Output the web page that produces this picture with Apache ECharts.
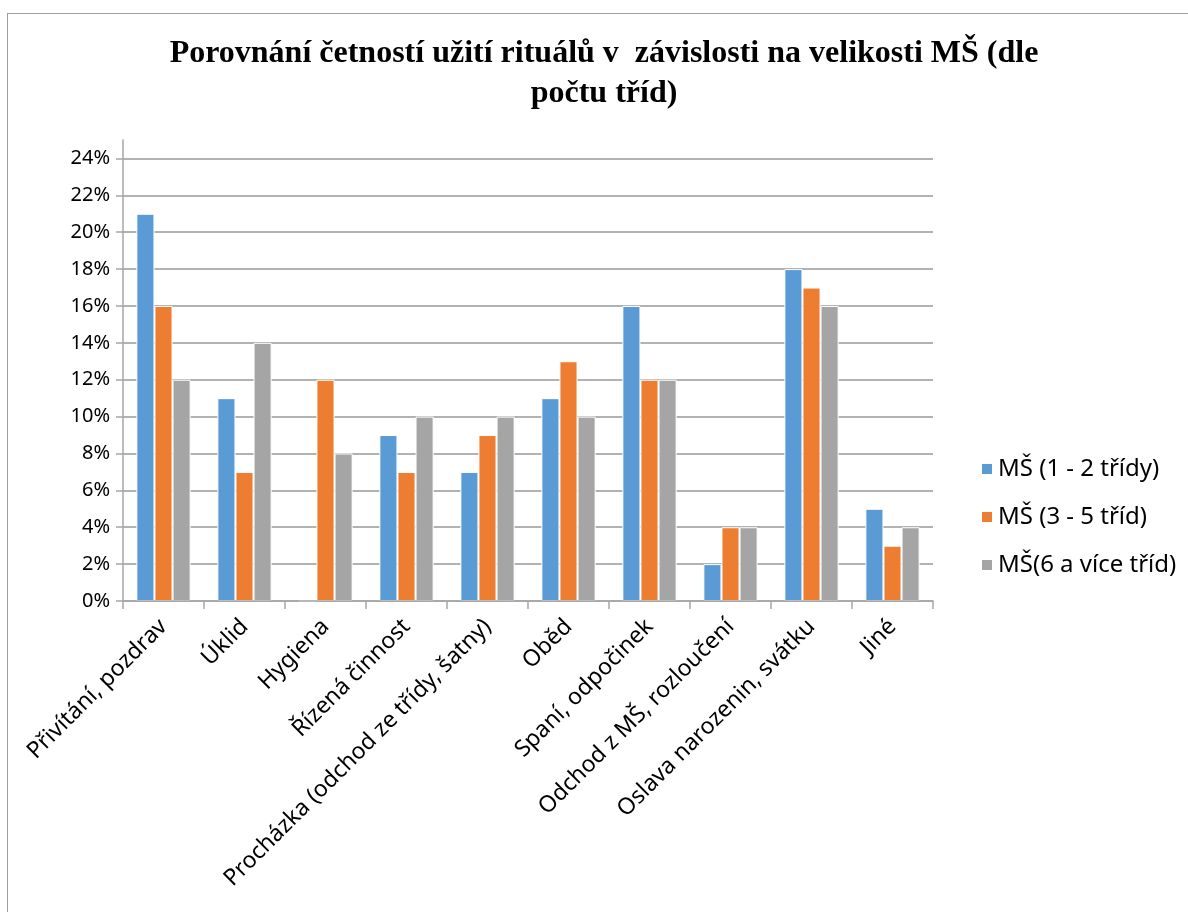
<!DOCTYPE html>
<html>
<head>
<meta charset="utf-8">
<script src="https://cdn.jsdelivr.net/npm/echarts@6/dist/echarts.min.js"></script>
<style>
html,body{margin:0;padding:0;background:#fff;}
#c{width:1188px;height:912px;position:absolute;left:0;top:0;}
#frame{position:absolute;left:7px;top:13px;width:1300px;height:1000px;border-left:1.5px solid #a0a0a0;border-top:1.5px solid #a0a0a0;pointer-events:none;}
</style>
</head>
<body>
<div id="c"></div>
<div id="frame"></div>
<script>
const titleText = 'Porovnání četností užití rituálů v  závislosti na velikosti MŠ (dle\npočtu tříd)';
const categories = ['Přivítání, pozdrav', 'Úklid', 'Hygiena', 'Řízená činnost', 'Procházka (odchod ze třídy, šatny)', 'Oběd', 'Spaní, odpočinek', 'Odchod z MŠ, rozloučení', 'Oslava narozenin, svátku', 'Jiné'];
const seriesNames = ['MŠ (1 - 2 třídy)', 'MŠ (3 - 5 tříd)', 'MŠ(6 a více tříd)'];
const small = [21, 11, 0, 9, 7, 11, 16, 2, 18, 5];
const medium = [16, 7, 12, 7, 9, 13, 12, 4, 17, 3];
const large = [12, 14, 8, 10, 10, 10, 12, 4, 16, 4];
const yTicks = [0, 2, 4, 6, 8, 10, 12, 14, 16, 18, 20, 22, 24];
const colors = ['#5B9BD5', '#ED7D31', '#A5A5A5'];
const values = [small, medium, large];

const chart = echarts.init(document.getElementById('c'));
const font = '"Noto Sans", sans-serif';
chart.setOption({
  animation: false,
  title: {
    text: titleText,
    left: 604,
    textAlign: 'center',
    top: 34,
    padding: 0,
    textStyle: {fontFamily: '"Liberation Serif", serif', fontWeight: 'bold', fontSize: 32, lineHeight: 40, color: '#000'}
  },
  legend: {
    orient: 'vertical',
    left: 975,
    top: 452,
    itemWidth: 12,
    itemHeight: 12,
    itemGap: 24,
    icon: 'rect',
    textStyle: {fontFamily: font, fontSize: 24, color: '#000'},
    data: seriesNames
  },
  grid: {left: 123, right: 255, top: 140, bottom: 311, containLabel: false},
  xAxis: {
    type: 'category',
    data: categories,
    z: 5,
    axisLine: {lineStyle: {color: '#a6a6a6', width: 1.5}},
    axisTick: {show: true, length: 8, lineStyle: {color: '#a6a6a6', width: 1.5}},
    axisLabel: {rotate: 45, interval: 0, margin: 22, fontFamily: font, fontSize: 23, color: '#000'}
  },
  yAxis: {
    type: 'value',
    min: 0,
    max: 25,
    interval: 2,
    axisLine: {show: true, lineStyle: {color: '#a6a6a6', width: 1.5}},
    axisTick: {show: true, length: 7, customValues: yTicks, lineStyle: {color: '#a6a6a6', width: 1.5}},
    axisLabel: {customValues: yTicks, margin: 13, fontFamily: font, fontSize: 20, color: '#000', formatter: v => v + '%'},
    splitLine: {show: true, lineStyle: {color: '#999999', width: 1.5}}
  },
  series: values.map((d, i) => ({
    name: seriesNames[i],
    type: 'bar',
    data: d,
    barGap: '0%',
    barCategoryGap: '33%',
    itemStyle: {color: colors[i], borderColor: '#ffffff', borderWidth: 1}
  }))
});
</script>
</body>
</html>
